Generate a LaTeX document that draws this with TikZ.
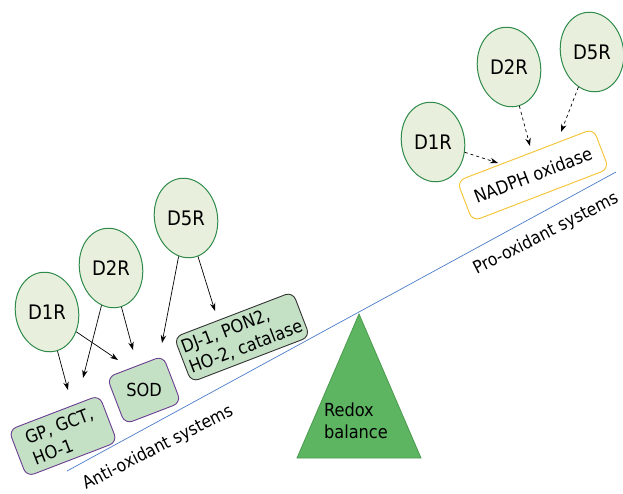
\documentclass[tikz,border=0pt]{standalone}
\usepackage{fontspec}
\setmainfont{DejaVu Sans Condensed}
\usetikzlibrary{positioning,shapes.geometric,arrows.meta}

\definecolor{recfill}{HTML}{E8EFDD}
\definecolor{recline}{HTML}{2E8B4A}
\definecolor{boxfill}{HTML}{C4E1C6}
\definecolor{boxpurple}{HTML}{6B3D91}
\definecolor{boxgold}{HTML}{F2C230}
\definecolor{beamblue}{HTML}{4A7CC7}
\definecolor{triafill}{HTML}{5DB562}
\definecolor{trialine}{HTML}{4B9B4F}

\begin{document}
\begin{tikzpicture}[
  x=1pt, y=-1pt,
  font=\fontsize{18}{22}\selectfont,
  recnode/.style={draw=recline,fill=recfill,ellipse,line width=1pt,minimum width=63pt,minimum height=80pt,inner sep=0pt,rotate=10},
  reclabel/.style={font=\fontsize{20}{22}\selectfont},
  enzbox/.style={draw,fill=boxfill,rounded corners=8pt,line width=0.9pt,align=left,inner sep=3pt,rotate=21},
  sysnote/.style={rotate=27,font=\fontsize{17.5}{22}\selectfont},
  actarrow/.style={-{Stealth[length=8pt,width=5.5pt]},line width=0.7pt},
  proarrow/.style={actarrow,dashed}
    ]
\useasboundingbox (0,0) rectangle (623,493);

% balance
\coordinate (beamL) at (67,471);
\coordinate (beamR) at (616,172);
\draw[beamblue,line width=0.7pt] (beamL) -- (beamR);
\draw[fill=triafill,draw=trialine,line width=0.8pt] (359,314) -- (421,458) -- (297,458) -- cycle;
\node[align=left] (redox) at (356,421) {Redox\\balance};

\node[sysnote] (anti) at (158,448) {Anti-oxidant systems};
\node[sysnote] (pro) at (546,234) {Pro-oxidant systems};

% anti-oxidant side
\node[enzbox,draw=boxpurple,minimum width=97pt,minimum height=50pt] (gp) at (63,436) {GP, GCT,\\HO-1};
\node[enzbox,draw=boxpurple,minimum width=60pt,minimum height=50pt] (sod) at (144,390) {};
\node (sodt) at (sod.center) {SOD};
\node[enzbox,draw=black!80,minimum width=127pt,minimum height=48pt] (dj) at (242,337) {DJ-1, PON2,\\HO-2, catalase};

\node[recnode] (ad1) at (47,312) {};
\node[reclabel] (ad1t) at (ad1.center) {D1R};
\node[recnode] (ad2) at (111,268) {};
\node[reclabel] (ad2t) at (ad2.center) {D2R};
\node[recnode] (ad5) at (186,218) {};
\node[reclabel] (ad5t) at (ad5.center) {D5R};

\coordinate (gpa) at (68,390);
\coordinate (gpb) at (83,378);
\coordinate (soda) at (118,360);
\coordinate (sodb) at (133,350);
\coordinate (sodc) at (162,343);
\coordinate (dja) at (215,311);

\path (ad1) edge[actarrow] (gpa)
(ad1) edge[actarrow] (soda)
(ad2) edge[actarrow] (gpb)
(ad2) edge[actarrow] (sodb)
(ad5) edge[actarrow] (sodc)
(ad5) edge[actarrow] (dja);

% pro-oxidant side
\node[enzbox,draw=boxgold,fill=white,minimum width=146pt,minimum height=43pt,align=center] (nox) at (533,175) {NADPH oxidase};

\node[recnode] (pd1) at (433,142) {};
\node[reclabel] (pd1t) at (pd1.center) {D1R};
\node[recnode] (pd2) at (509,67) {};
\node[reclabel] (pd2t) at (pd2.center) {D2R};
\node[recnode] (pd5) at (592,52) {};
\node[reclabel] (pd5t) at (pd5.center) {D5R};

\coordinate (noxa) at (498,163);
\coordinate (noxb) at (530,146);
\coordinate (noxc) at (561,132);

\path (pd1) edge[proarrow] (noxa)
(pd2) edge[proarrow] (noxb)
(pd5) edge[proarrow] (noxc);

\end{tikzpicture}
\end{document}
